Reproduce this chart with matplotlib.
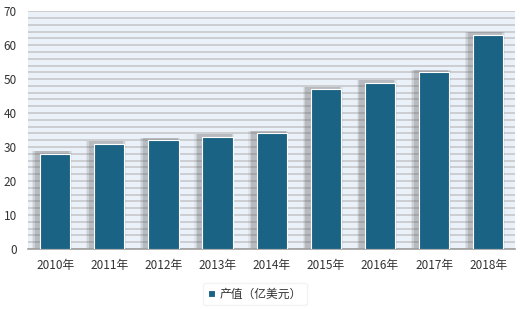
import matplotlib
matplotlib.use('Agg')
import numpy as np
from matplotlib import pyplot as plt

plt.rcParams['font.family'] = ['Noto Sans CJK SC', 'DejaVu Sans']

years = ['2010年', '2011年', '2012年', '2013年', '2014年', '2015年', '2016年', '2017年', '2018年']
values = [28, 31, 32, 33, 34, 47, 49, 52, 63]
series_name = '产值（亿美元）'
y_ticks = [0, 10, 20, 30, 40, 50, 60, 70]

BAR_COLOR = '#1b6385'
BG_COLOR = '#eaf1f8'
GRID_COLOR = '#c6c8cb'
TEXT_COLOR = '#333333'

fig = plt.figure(figsize=(5.2, 3.09), dpi=100)
ax = fig.add_axes([0.054, 0.194, 0.937, 0.770])
ax.set_facecolor(BG_COLOR)

x = np.arange(len(years))

# horizontal stripes every 2 units
for yv in np.arange(0, 71, 2):
    ax.axhline(yv, color=GRID_COLOR, lw=1.2, zorder=1)

# soft shadow behind bars (offset to the left / up)
for w, a in [(0.74, 0.08), (0.69, 0.12), (0.64, 0.18)]:
    ax.bar(x - 0.06, np.array(values) + 0.8, width=w, color='#555555', alpha=a, zorder=2, lw=0)

bars = ax.bar(x, values, width=0.56, color=BAR_COLOR, edgecolor='white', lw=0.8, zorder=3, label=series_name)

ax.set_xlim(-0.5, len(years) - 0.5)
ax.set_ylim(0, 70)
ax.set_yticks(y_ticks)
ax.set_xticks(x)
ax.set_xticklabels(years)
ax.tick_params(axis='both', length=0, labelsize=8.5, colors=TEXT_COLOR)
ax.tick_params(axis='x', pad=7)
ax.tick_params(axis='y', pad=8)
for s in ['left', 'right', 'top']:
    ax.spines[s].set_visible(False)
ax.spines['bottom'].set_color('#a0a0a0')
ax.spines['bottom'].set_linewidth(1.2)

leg = fig.legend(handles=[bars], labels=[series_name], loc='center', bbox_to_anchor=(0.49, 0.048),
                 frameon=True, fontsize=8.5, handlelength=0.6, handleheight=0.6, handletextpad=0.4,
                 borderpad=0.4)
leg.get_frame().set_edgecolor('#f0f0f0')
leg.get_frame().set_facecolor('white')
for t in leg.get_texts():
    t.set_color(TEXT_COLOR)

fig.savefig('out.png', dpi=100)
